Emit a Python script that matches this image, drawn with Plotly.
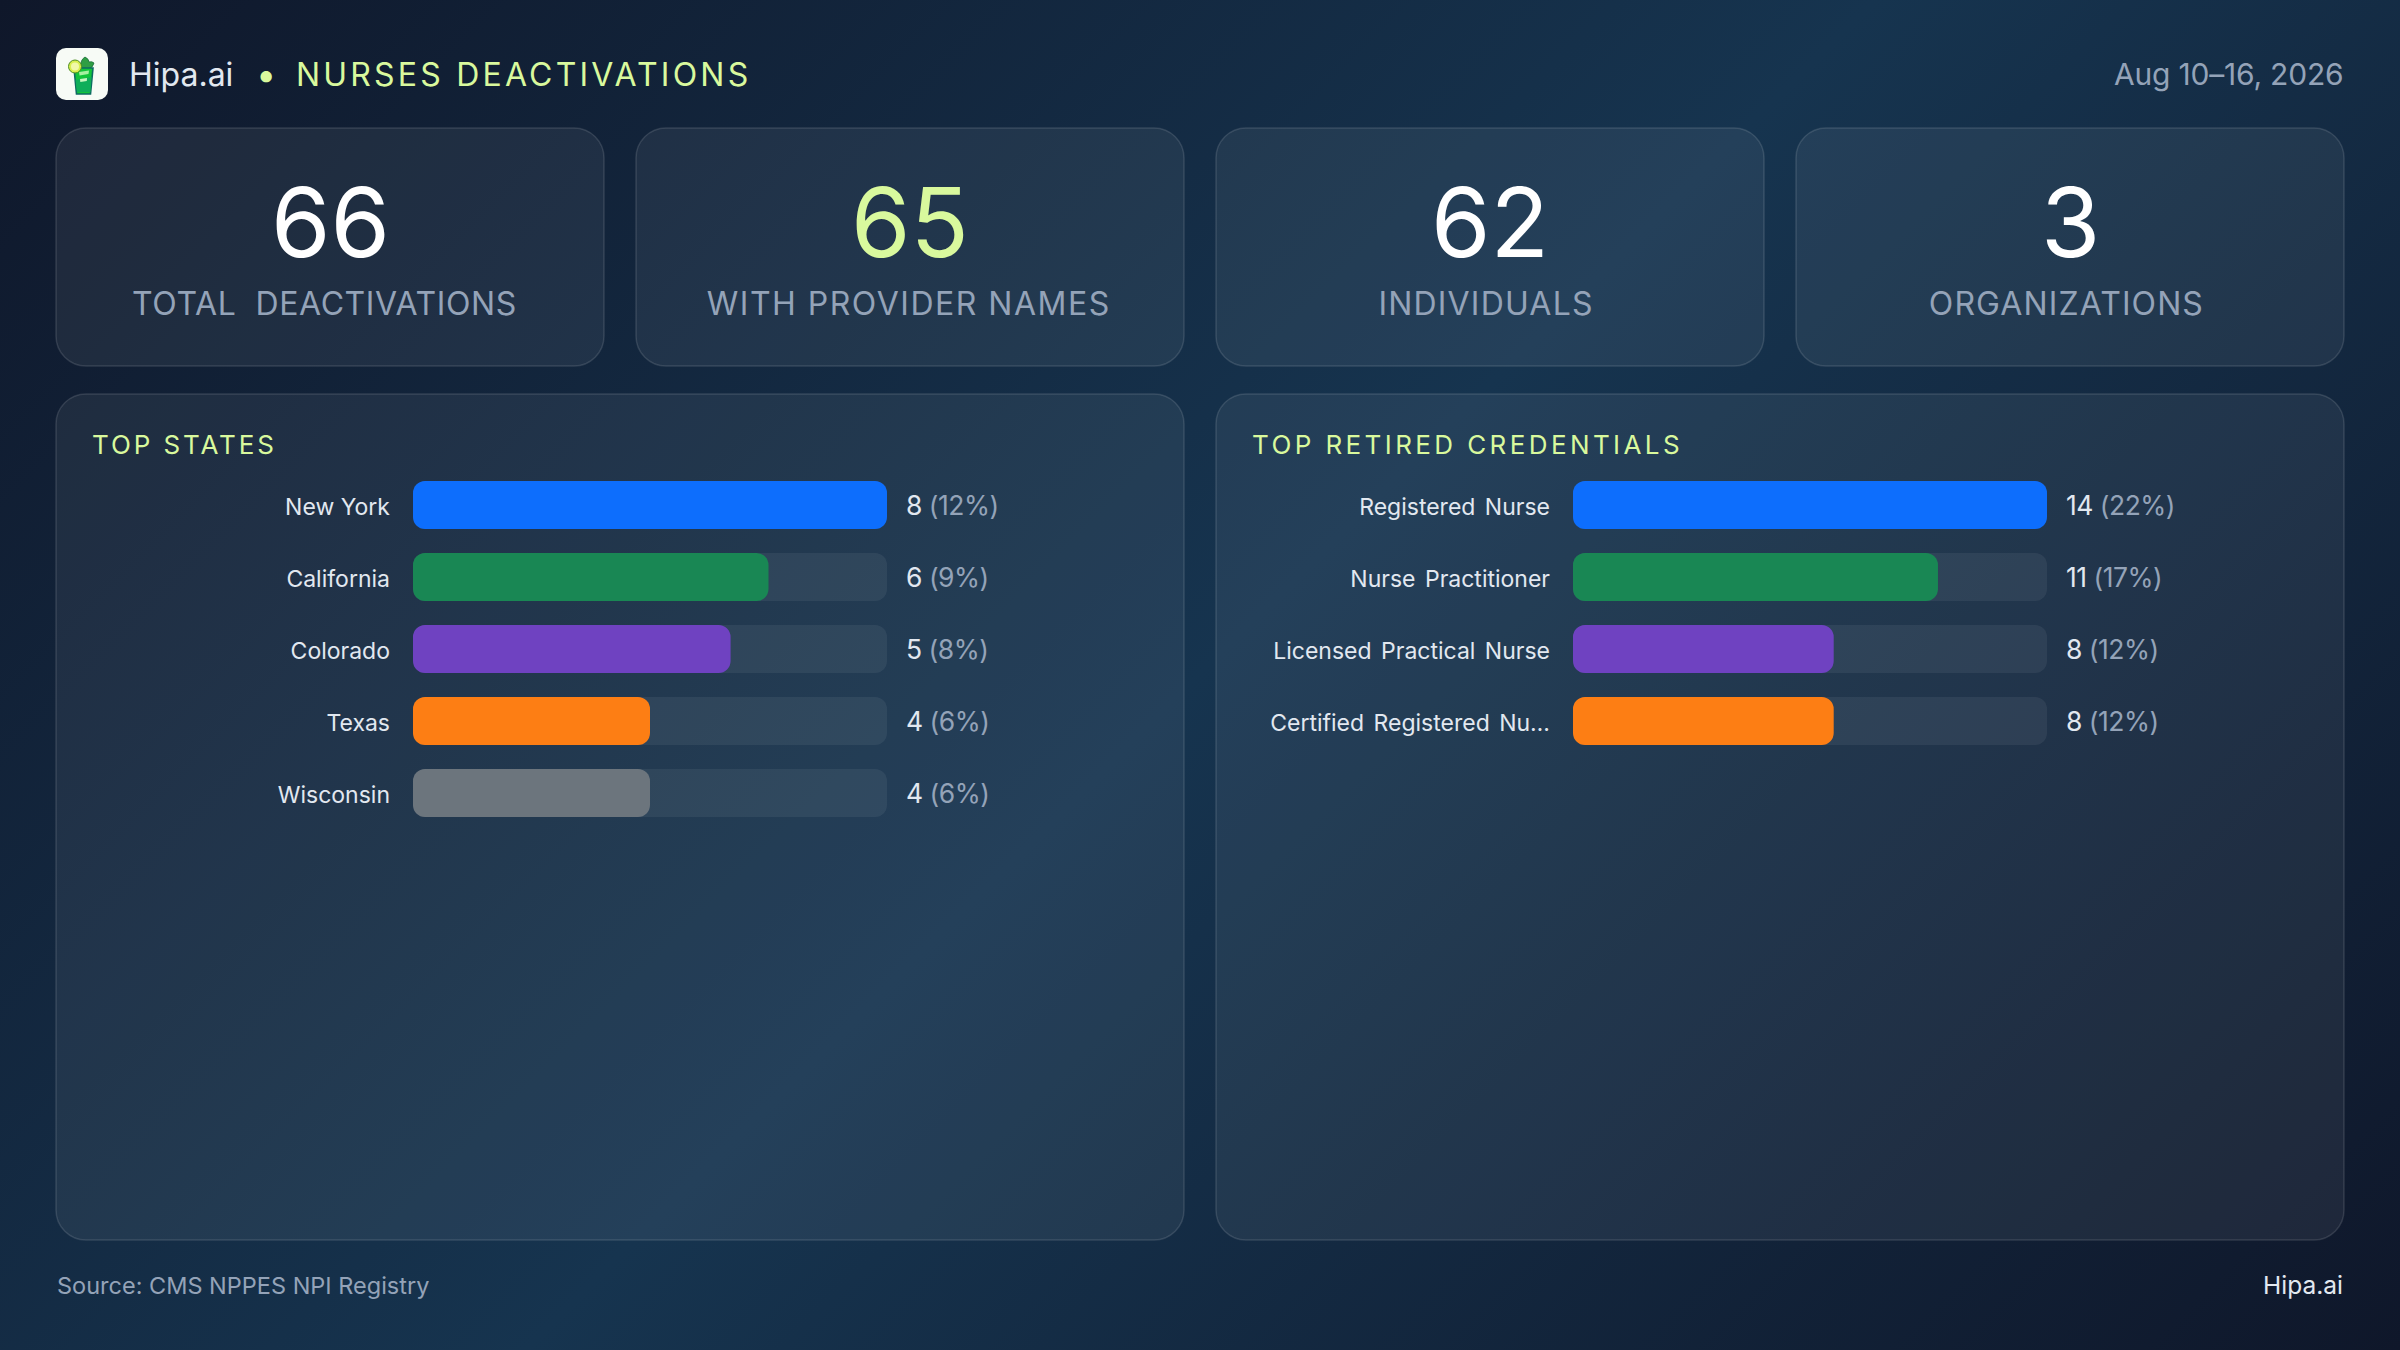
import base64
import plotly.graph_objects as go

W, H = 2400, 1350

# ---- data ----
states = ["New York", "California", "Colorado", "Texas", "Wisconsin"]
state_lengths = [8, 6, 5.36, 4, 4]
state_counts = [8, 6, 5, 4, 4]
state_shares = ["12%", "9%", "8%", "6%", "6%"]

credentials = ["Registered Nurse", "Nurse Practitioner", "Licensed Practical Nurse", "Certified Registered Nu…"]
credential_lengths = [14, 10.78, 7.7, 7.7]
credential_counts = [14, 11, 8, 8]
credential_shares = ["22%", "17%", "12%", "12%"]

kpi_values = ["66", "65", "62", "3"]
kpi_labels = ["TOTAL  DEACTIVATIONS", "WITH PROVIDER NAMES", "INDIVIDUALS", "ORGANIZATIONS"]
kpi_colors = ["#ffffff", "#d9f99d", "#ffffff", "#ffffff"]
bar_colors = ["#0d6efd", "#198754", "#6f42c1", "#fd7e14", "#6c757d"]

LIME = "#d9f99d"
MUTED = "#94a3b8"
LIGHT = "#e2e8f0"
FONT = "Inter"


def px(x):
    return x / W


def py(y):
    return 1 - y / H


def rounded(x0, y0, x1, y1, r):
    k = r * 0.4477
    pts = [
        ("M", x0 + r, y0), ("L", x1 - r, y0), ("C", x1 - k, y0, x1, y0 + k, x1, y0 + r),
        ("L", x1, y1 - r), ("C", x1, y1 - k, x1 - k, y1, x1 - r, y1), ("L", x0 + r, y1),
        ("C", x0 + k, y1, x0, y1 - k, x0, y1 - r), ("L", x0, y0 + r), ("C", x0, y0 + k, x0 + k, y0, x0 + r, y0),
    ]
    out = []
    for p in pts:
        coords = p[1:]
        s = " ".join(f"{px(coords[i]):.6f},{py(coords[i + 1]):.6f}" for i in range(0, len(coords), 2))
        out.append(f"{p[0]} {s}")
    return " ".join(out) + " Z"


def card(x0, y0, x1, y1, r=30):
    return dict(type="path", xref="paper", yref="paper", layer="below", path=rounded(x0, y0, x1, y1, r),
                fillcolor="rgba(255,255,255,0.062)", line=dict(color="rgba(255,255,255,0.12)", width=1.5))


bg_svg = f'''<svg xmlns="http://www.w3.org/2000/svg" width="{W}" height="{H}" viewBox="0 0 {W} {H}">
<defs><linearGradient id="g" gradientUnits="userSpaceOnUse" x1="262.5" y1="-262.5" x2="2137.5" y2="1612.5">
<stop offset="0" stop-color="#0f172a"/><stop offset="0.5" stop-color="#16344f"/><stop offset="1" stop-color="#0f172a"/>
</linearGradient></defs><rect width="{W}" height="{H}" fill="url(#g)"/></svg>'''

logo_svg = '''<svg xmlns="http://www.w3.org/2000/svg" width="208" height="208" viewBox="0 0 52 52">
<rect width="52" height="52" rx="10" fill="#f7fbf6"/>
<path d="M25 19 Q24 12 29 9 Q33 11 33 14 Q36 13 38 15 Q37 20 32 21 Z" fill="#2f9e44" stroke="#1b6e3a" stroke-width="0.8"/>
<path d="M18 20 H37 L34.500 46 H20.500 Z" fill="#12c43a" stroke="#0e6b62" stroke-width="1.600"/>
<path d="M19.500 32 L35.500 29 L34.500 44 L21 44 Z" fill="#0fae5a"/>
<path d="M23 24 L33 22.500 L32.500 26 L23.500 27.500 Z" fill="#a6f0a0"/>
<path d="M24 31 L31 30 L30.800 33 L24.300 34 Z" fill="#c9f7c0"/>
<circle cx="19" cy="18.500" r="6.500" fill="#d8ef4e" stroke="#4f8f22" stroke-width="1"/>
<circle cx="19" cy="18.500" r="4" fill="#f1f9a8"/>
</svg>'''


def uri(svg):
    return "data:image/svg+xml;base64," + base64.b64encode(svg.encode()).decode()


fig = go.Figure()

# ---- bar panels ----
BAR_PX = 474
PITCH = 72
Y0 = 469


def panel(names, lengths, counts, shares, left, xa, ya):
    n = len(names)
    top = max(lengths)
    for vals, colors in (([top] * n, "rgba(255,255,255,0.062)"), (lengths, bar_colors[:n])):
        fig.add_trace(go.Bar(y=names, x=vals, base=[0] * n, orientation="h", width=48 / PITCH,
                             marker=dict(color=colors, cornerradius=12, line_width=0),
                             xaxis=xa, yaxis=ya, hoverinfo="skip", showlegend=False))
    xkey = "xaxis" + xa[1:]
    ykey = "yaxis" + ya[1:]
    fig.update_layout({
        xkey: dict(domain=[px(left), px(left + BAR_PX)], range=[0, top], visible=False, fixedrange=True, anchor=ya),
        ykey: dict(domain=[py(Y0 + PITCH * n), py(Y0)], type="category", categoryorder="array", categoryarray=names,
                   range=[n - 0.5, -0.5], anchor=xa, showgrid=False, zeroline=False, showline=False,
                   ticks="", ticklabelstandoff=22, tickfont=dict(family=FONT, size=23, color=LIGHT), fixedrange=True),
    })
    for name, c, s in zip(names, counts, shares):
        fig.add_annotation(x=top, y=name, xref=xa, yref=ya, xanchor="left", yanchor="middle", align="left", xshift=17,
                           yshift=0, showarrow=False,
                           text=f"{c} <span style='color:{MUTED}'>({s})</span>",
                           font=dict(family=FONT, size=26.5, color=LIGHT))


panel(states, state_lengths, state_counts, state_shares, 413, "x", "y")
panel(credentials, credential_lengths, credential_counts, credential_shares, 1573, "x2", "y2")


def note(text, x, y, size, color, anchor="left"):
    fig.add_annotation(x=px(x), y=py(y), xref="paper", yref="paper", xanchor=anchor, yanchor="middle", align=anchor,
                       showarrow=False, text=text, font=dict(family=FONT, size=size, color=color))


# header
note("Hipa.ai", 127, 74, 32, LIGHT)
note("•", 254, 74, 36, LIME)
note("NURSES DEACTIVATIONS", 294, 74, 32, LIME)
note("Aug 10–16, 2026", 2345, 74, 30, MUTED, "right")

# KPI cards
shapes = []
card_x = [56, 636, 1216, 1796]
for x0, val, lab, col, off in zip(card_x, kpi_values, kpi_labels, kpi_colors, (268, 272, 270, 270)):
    shapes.append(card(x0, 128, x0 + 548, 366))
    note(val, x0 + 274, 222, 96, col, "center")
    note(lab, x0 + off, 303, 32, MUTED, "center")

# panels
for x0, title in ((56, "TOP STATES"), (1216, "TOP RETIRED CREDENTIALS")):
    shapes.append(card(x0, 394, x0 + 1128, 1240))
    note(title, x0 + 34, 444, 26, LIME)

# footer
note("Source: CMS NPPES NPI Registry", 54.5, 1285, 23.5, MUTED)
note("Hipa.ai", 2345, 1285, 24.5, LIGHT, "right")

fig.update_layout(
    width=W, height=H, margin=dict(l=0, r=0, t=0, b=0), barmode="overlay", showlegend=False,
    paper_bgcolor="#0f172a", plot_bgcolor="rgba(0,0,0,0)", font=dict(family=FONT), shapes=shapes,
    images=[
        dict(source=uri(bg_svg), xref="paper", yref="paper", x=0, y=1, sizex=1, sizey=1, xanchor="left", yanchor="top",
             sizing="stretch", layer="below"),
        dict(source=uri(logo_svg), xref="paper", yref="paper", x=px(56), y=py(48), sizex=px(52), sizey=52 / H,
             xanchor="left", yanchor="top", sizing="stretch", layer="above"),
    ],
)

post = """
document.body.style.margin='0';
document.body.style.overflow='hidden';
var sp={'NURSES DEACTIVATIONS':'3.2px','TOTAL  DEACTIVATIONS':'0.6px','WITH PROVIDER NAMES':'1.5px','INDIVIDUALS':'1.2px',
'ORGANIZATIONS':'1.1px','TOP STATES':'2.9px','TOP RETIRED CREDENTIALS':'3.4px','Aug 10–16, 2026':'-0.2px'};
document.querySelectorAll('.annotation-text').forEach(function(t){
  var k=t.textContent;
  if(sp[k]){t.style.letterSpacing=sp[k];}
  else if(k.indexOf('%')>=0){t.style.letterSpacing='-0.5px';}
});
document.querySelectorAll('.ytick text').forEach(function(t){t.setAttribute('dy','1.5');});
document.querySelectorAll('.y2tick text').forEach(function(t){t.style.wordSpacing='3px';t.setAttribute('dy','1.5');});
"""

fig.write_html("out.html", post_script=post, config=dict(displayModeBar=False, staticPlot=True))
